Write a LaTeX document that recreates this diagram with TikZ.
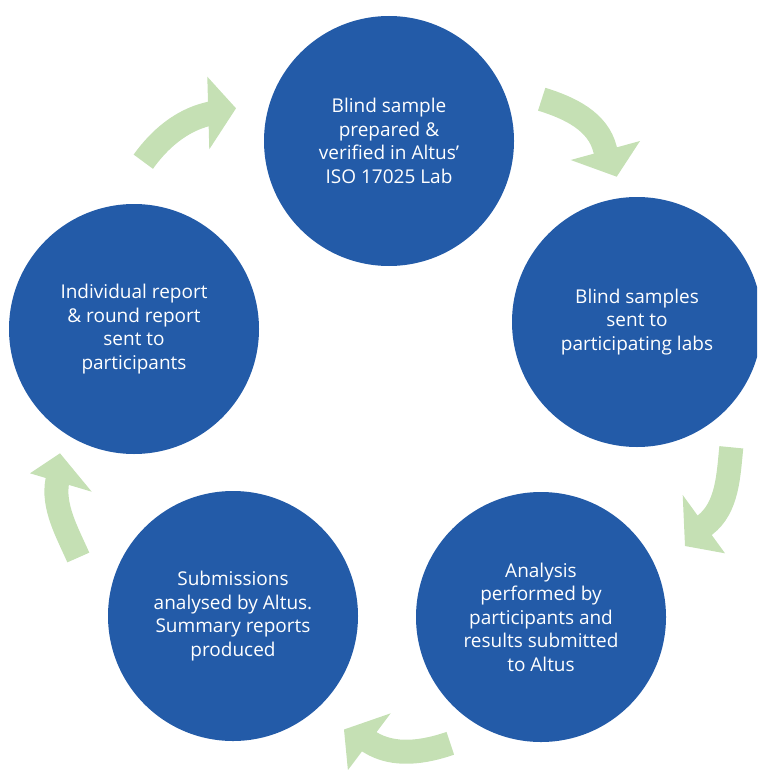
\documentclass[tikz,border=0pt]{standalone}
\usepackage{fontspec}
\setmainfont{Open Sans}
\definecolor{cblue}{HTML}{235BA8}
\definecolor{agreen}{HTML}{C5E0B4}
\begin{document}
\begin{tikzpicture}[x=1pt,y=-1pt,
  stage/.style={circle, fill=cblue, minimum size=250pt, inner sep=0pt,
    text=white, align=center, font=\fontsize{19}{23.5}\selectfont},
  shaft/.style={draw=agreen, line width=24pt},
  head/.style={fill=agreen}]
\useasboundingbox (0,0) rectangle (757,770);
\clip (0,0) rectangle (757,770);

% ---------- arrows ----------
% arrow 1 (left -> top)
\coordinate (a1t) at (143.3,161.7);
\coordinate (a1h) at (207.5,114.2);
\coordinate (a1e) at (213.3,112.8);
\coordinate (a1o) at (207.3,76.7);
\coordinate (a1p) at (236,108.3);
\coordinate (a1i) at (209.3,149.3);
\draw[shaft] (a1t) .. controls (159.3,139.3) and (180.8,120.8) .. (a1h) -- (a1e);
\fill[head] (a1o) -- (a1p) -- (a1i) -- cycle;

% arrow 2 (top -> right)
\coordinate (a2t) at (541.7,99.2);
\coordinate (a2h) at (605,149.2);
\coordinate (a2e) at (606.4,155);
\coordinate (a2o) at (640,141);
\coordinate (a2p) at (616.7,176.7);
\coordinate (a2i) at (570.7,160);
\draw[shaft] (a2t) .. controls (569.4,107.8) and (598,121.1) .. (a2h) -- (a2e);
\fill[head] (a2o) -- (a2p) -- (a2i) -- cycle;

% arrow 3 (right -> bottom right)
\coordinate (a3t) at (731.3,447.3);
\coordinate (a3h) at (705,525);
\coordinate (a3e) at (700.3,528.7);
\coordinate (a3o) at (725,553.3);
\coordinate (a3p) at (685,546);
\coordinate (a3i) at (682.7,495);
\draw[shaft] (a3t) .. controls (728.4,475.7) and (727.5,507.6) .. (a3h) -- (a3e);
\fill[head] (a3o) -- (a3p) -- (a3i) -- cycle;

% arrow 4 (bottom right -> bottom left)
\coordinate (a4t) at (450.3,743.3);
\coordinate (a4h) at (370,742.2);
\coordinate (a4e) at (364.9,739);
\coordinate (a4o) at (347.9,770.1);
\coordinate (a4p) at (344,729.5);
\coordinate (a4i) at (390.7,713.3);
\draw[shaft] (a4t) .. controls (423.8,752.4) and (393.8,757) .. (a4h) -- (a4e);
\fill[head] (a4o) -- (a4p) -- (a4i) -- cycle;

% arrow 5 (bottom left -> left)
\coordinate (a5t) at (78.3,557.5);
\coordinate (a5h) at (57.5,480);
\coordinate (a5e) at (58.7,474.1);
\coordinate (a5o) at (30,473.3);
\coordinate (a5p) at (60,453.3);
\coordinate (a5i) at (91.7,491.7);
\draw[shaft] (a5t) .. controls (67.5,532.7) and (52.1,506.5) .. (a5h) -- (a5e);
\fill[head] (a5o) -- (a5p) -- (a5i) -- cycle;

% ---------- stages ----------
\node[stage] (s1) at (389,141) {Blind sample\\prepared \&\\verified in Altus’\\ISO 17025 Lab};
\node[stage] (s2) at (637,322) {Blind samples\\sent to\\participating labs};
\node[stage] (s3) at (541,617) {Analysis\\performed by\\participants and\\results submitted\\to Altus};
\node[stage] (s4) at (233,616) {Submissions\\analysed by Altus.\\Summary reports\\produced};
\node[stage] (s5) at (134,329) {Individual report\\\& round report\\sent to\\participants};
\end{tikzpicture}
\end{document}
